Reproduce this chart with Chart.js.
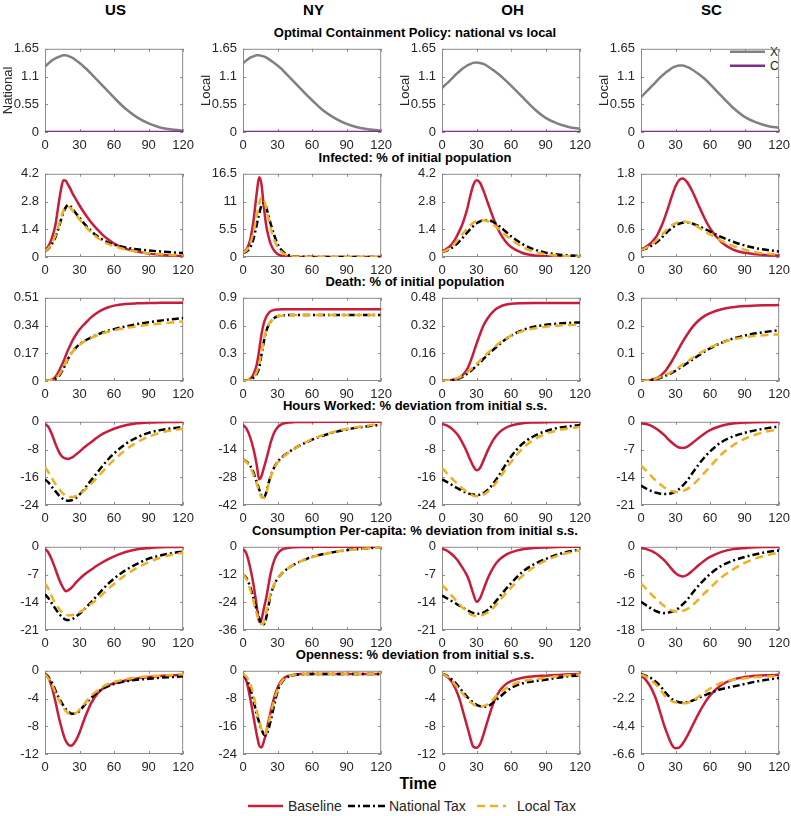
<!DOCTYPE html>
<html lang="en">
<head>
<meta charset="UTF-8">
<title>Optimal Containment Policy: national vs local</title>
<script src="https://cdn.jsdelivr.net/npm/chart.js"></script>
<style>
  body { margin: 0; background: #fff; font-family: 'Liberation Sans', Arial, Helvetica, sans-serif; }
  #fig { position: relative; width: 791px; height: 816px; overflow: hidden; background: #fff; }
  #fig canvas { position: absolute; }
  .state { position: absolute; top: 0; width: 141px; text-align: center; font-weight: bold; font-size: 15px; line-height: 19px; color: #000; }
  .rowtitle { position: absolute; left: 115px; width: 600px; text-align: center; font-weight: bold; font-size: 13px; line-height: 14px; color: #000; white-space: nowrap; }
  #time { position: absolute; left: 368px; top: 775px; width: 100px; text-align: center; font-weight: bold; font-size: 16px; line-height: 18px; }
  svg { position: absolute; overflow: visible; }
</style>
</head>
<body>
<div id="fig">
  <svg id="legendSC" style="left:725px; top:42px;" width="66" height="32">
    <line x1="5" y1="9.7" x2="40" y2="9.7" stroke="#808080" stroke-width="2.5"/>
    <line x1="5" y1="23.7" x2="40" y2="23.7" stroke="#7e2f8e" stroke-width="2.5"/>
    <text x="45" y="14" font-size="12" fill="#262626" font-family="Liberation Sans, Arial, sans-serif">X</text>
    <text x="45" y="28" font-size="12" fill="#262626" font-family="Liberation Sans, Arial, sans-serif">C</text>
  </svg>
  <div id="time">Time</div>
  <svg id="legendBottom" style="left:0; top:796px;" width="791" height="20">
    <line x1="248" y1="10" x2="283" y2="10" stroke="#c81c3a" stroke-width="2.5"/>
    <text x="288" y="15" font-size="14" fill="#262626" font-family="Liberation Sans, Arial, sans-serif">Baseline</text>
    <line x1="348" y1="10" x2="385" y2="10" stroke="#000" stroke-width="2.5" stroke-dasharray="7 3 2 3"/>
    <text x="389" y="15" font-size="14" fill="#262626" font-family="Liberation Sans, Arial, sans-serif">National Tax</text>
    <line x1="477" y1="10" x2="506" y2="10" stroke="#edb120" stroke-width="2.5" stroke-dasharray="8 5"/>
    <text x="517" y="15" font-size="14" fill="#262626" font-family="Liberation Sans, Arial, sans-serif">Local Tax</text>
  </svg>
</div>

<script>
// time grid (days)
const T = [0,3,6,9,12,14,16,18,20,22,24,27,30,33,36,40,45,50,55,60,70,80,90,100,110,120];
const xTicks = [0, 30, 60, 90, 120];

const states = ['US', 'NY', 'OH', 'SC'];
const rowTitles = [
  'Optimal Containment Policy: national vs local',
  'Infected: % of initial population',
  'Death: % of initial population',
  'Hours Worked: % deviation from initial s.s.',
  'Consumption Per-capita: % deviation from initial s.s.',
  'Openness: % deviation from initial s.s.'
];
const policyLabels = ['National', 'Local', 'Local', 'Local'];

// y tick labels per row, per state
const policyTicks = [[0,0.55,1.1,1.65],[0,0.55,1.1,1.65],[0,0.55,1.1,1.65],[0,0.55,1.1,1.65]];
const infTicks    = [[0,1.4,2.8,4.2],[0,5.5,11,16.5],[0,1.4,2.8,4.2],[0,0.6,1.2,1.8]];
const deathTicks  = [[0,0.17,0.34,0.51],[0,0.3,0.6,0.9],[0,0.16,0.32,0.48],[0,0.1,0.2,0.3]];
const hoursTicks  = [[-24,-16,-8,0],[-42,-28,-14,0],[-24,-16,-8,0],[-21,-14,-7,0]];
const consTicks   = [[-21,-14,-7,0],[-36,-24,-12,0],[-21,-14,-7,0],[-18,-12,-6,0]];
const openTicks   = [[-12,-8,-4,0],[-24,-16,-8,0],[-12,-8,-4,0],[-6.6,-4.4,-2.2,0]];

// containment policy X and C
const usX = [1.30,1.36,1.42,1.46,1.49,1.51,1.52,1.52,1.51,1.49,1.47,1.42,1.37,1.31,1.25,1.16,1.04,0.92,0.80,0.68,0.46,0.29,0.17,0.09,0.05,0.03];
const nyX = [1.36,1.42,1.47,1.50,1.52,1.52,1.51,1.50,1.48,1.45,1.42,1.37,1.32,1.26,1.19,1.10,0.98,0.86,0.74,0.63,0.42,0.27,0.16,0.09,0.05,0.03];
const ohX = [0.87,0.94,1.00,1.07,1.14,1.18,1.22,1.26,1.29,1.32,1.34,1.37,1.38,1.37,1.35,1.30,1.22,1.13,1.03,0.92,0.69,0.46,0.28,0.17,0.10,0.06];
const scX = [0.69,0.76,0.83,0.90,0.97,1.02,1.07,1.11,1.15,1.19,1.22,1.27,1.30,1.32,1.32,1.29,1.23,1.15,1.06,0.95,0.71,0.48,0.30,0.19,0.12,0.08];
const cPolicy = [0,0,0,0,0,0,0,0,0,0,0,0,0,0,0,0,0,0,0,0,0,0,0,0,0,0];

// infected
const usInfB = [0.33,0.55,0.95,1.6,2.75,3.45,3.88,3.85,3.65,3.45,3.2,2.9,2.6,2.32,2.07,1.75,1.42,1.12,0.88,0.68,0.42,0.27,0.17,0.11,0.07,0.05];
const usInfN = [0.3,0.42,0.65,1.0,1.5,1.9,2.25,2.5,2.62,2.57,2.42,2.2,1.98,1.76,1.56,1.32,1.07,0.88,0.73,0.62,0.48,0.39,0.33,0.28,0.24,0.2];
const usInfL = [0.3,0.44,0.7,1.08,1.6,2.0,2.35,2.52,2.55,2.48,2.34,2.12,1.9,1.68,1.48,1.25,1.0,0.8,0.65,0.54,0.38,0.27,0.19,0.14,0.1,0.08];
const nyInfB = [0.8,1.5,3.2,7.0,12.8,15.8,14.5,10.2,6.5,4.2,2.6,1.3,0.6,0.3,0.15,0.07,0.03,0.02,0.01,0.01,0.01,0.01,0.01,0.01,0.01,0.01];
const nyInfN = [0.8,1.1,1.8,3.5,6.5,8.5,10.2,10.7,10.0,8.3,6.6,4.4,2.6,1.5,0.8,0.35,0.12,0.05,0.03,0.02,0.02,0.02,0.02,0.02,0.02,0.02];
const nyInfL = [0.8,1.3,2.5,4.8,8.3,10.5,11.8,11.4,9.8,7.8,5.8,3.5,2.0,1.1,0.6,0.25,0.1,0.04,0.02,0.02,0.02,0.02,0.02,0.02,0.02,0.02];
const ohInfB = [0.3,0.38,0.5,0.68,0.95,1.18,1.42,1.7,2.05,2.45,2.95,3.6,3.87,3.75,3.35,2.7,1.9,1.25,0.8,0.5,0.2,0.08,0.04,0.02,0.01,0.01];
const ohInfN = [0.25,0.3,0.38,0.48,0.62,0.72,0.84,0.97,1.1,1.24,1.37,1.55,1.7,1.8,1.86,1.86,1.75,1.55,1.3,1.05,0.65,0.38,0.22,0.13,0.08,0.05];
const ohInfL = [0.25,0.32,0.42,0.56,0.74,0.88,1.02,1.17,1.31,1.45,1.57,1.72,1.81,1.86,1.86,1.8,1.62,1.38,1.12,0.88,0.5,0.27,0.14,0.07,0.04,0.02];
const scInfB = [0.17,0.2,0.25,0.31,0.4,0.47,0.57,0.68,0.81,0.95,1.1,1.33,1.53,1.66,1.70,1.62,1.4,1.12,0.85,0.62,0.32,0.16,0.09,0.06,0.04,0.03];
const scInfN = [0.15,0.17,0.2,0.24,0.29,0.33,0.37,0.42,0.47,0.52,0.57,0.63,0.68,0.72,0.74,0.75,0.72,0.67,0.61,0.55,0.43,0.33,0.25,0.19,0.15,0.12];
const scInfL = [0.15,0.18,0.22,0.27,0.33,0.37,0.42,0.48,0.53,0.58,0.63,0.69,0.73,0.76,0.77,0.76,0.71,0.64,0.56,0.49,0.35,0.24,0.16,0.1,0.07,0.05];

// death
const usDeathB = [0,0.002,0.008,0.025,0.06,0.09,0.12,0.155,0.19,0.22,0.25,0.285,0.315,0.34,0.362,0.39,0.417,0.438,0.452,0.462,0.472,0.476,0.478,0.479,0.48,0.48];
const usDeathN = [0,0.002,0.005,0.012,0.03,0.05,0.075,0.105,0.135,0.16,0.18,0.205,0.225,0.24,0.253,0.267,0.283,0.297,0.308,0.318,0.334,0.349,0.36,0.37,0.379,0.386];
const usDeathL = [0,0.003,0.008,0.018,0.037,0.057,0.082,0.11,0.137,0.16,0.18,0.203,0.222,0.237,0.25,0.264,0.279,0.292,0.302,0.311,0.325,0.336,0.345,0.352,0.359,0.365];
const nyDeathB = [0,0.005,0.02,0.07,0.18,0.33,0.5,0.62,0.69,0.73,0.755,0.768,0.773,0.775,0.776,0.777,0.777,0.777,0.777,0.777,0.777,0.777,0.777,0.777,0.777,0.777];
const nyDeathN = [0,0.003,0.012,0.035,0.08,0.14,0.28,0.42,0.53,0.6,0.64,0.68,0.7,0.707,0.711,0.713,0.715,0.715,0.715,0.715,0.715,0.715,0.715,0.715,0.715,0.715];
const nyDeathL = [0,0.004,0.014,0.04,0.1,0.18,0.31,0.44,0.54,0.605,0.645,0.682,0.7,0.707,0.71,0.712,0.713,0.713,0.713,0.713,0.713,0.713,0.713,0.713,0.713,0.713];
const ohDeathB = [0,0.001,0.003,0.006,0.011,0.016,0.023,0.035,0.05,0.07,0.1,0.155,0.215,0.27,0.32,0.365,0.405,0.428,0.44,0.446,0.449,0.45,0.45,0.45,0.45,0.45];
const ohDeathN = [0,0.001,0.003,0.006,0.01,0.013,0.018,0.025,0.033,0.042,0.052,0.07,0.088,0.107,0.127,0.153,0.183,0.212,0.24,0.262,0.294,0.313,0.324,0.331,0.335,0.338];
const ohDeathL = [0,0.002,0.005,0.009,0.014,0.018,0.024,0.031,0.04,0.05,0.06,0.078,0.097,0.117,0.137,0.163,0.193,0.22,0.243,0.262,0.288,0.303,0.313,0.319,0.323,0.325];
const scDeathB = [0,0.001,0.002,0.004,0.008,0.011,0.016,0.023,0.031,0.041,0.053,0.073,0.095,0.118,0.14,0.167,0.196,0.218,0.234,0.245,0.259,0.266,0.27,0.272,0.273,0.274];
const scDeathN = [0,0.001,0.002,0.004,0.006,0.008,0.01,0.013,0.016,0.02,0.023,0.03,0.037,0.045,0.053,0.064,0.078,0.092,0.106,0.118,0.138,0.153,0.164,0.172,0.178,0.183];
const scDeathL = [0,0.001,0.003,0.005,0.008,0.01,0.013,0.016,0.019,0.023,0.027,0.034,0.042,0.05,0.059,0.07,0.084,0.098,0.11,0.121,0.138,0.15,0.158,0.163,0.166,0.168];

// hours worked
const usHoursB = [-0.6,-1.5,-3.6,-6.3,-8.6,-9.7,-10.3,-10.6,-10.7,-10.5,-10.2,-9.4,-8.6,-7.7,-6.9,-5.9,-4.6,-3.5,-2.7,-2.0,-1.0,-0.45,-0.2,-0.1,-0.05,0];
const usHoursN = [-16.6,-17.5,-18.8,-20.0,-21.2,-21.8,-22.3,-22.6,-22.8,-22.7,-22.5,-21.9,-21.0,-19.9,-18.6,-16.9,-14.8,-12.7,-10.8,-9.1,-6.4,-4.5,-3.2,-2.4,-1.9,-1.5];
const usHoursL = [-13.1,-14.6,-16.3,-17.9,-19.3,-20.1,-20.8,-21.3,-21.6,-21.7,-21.7,-21.4,-20.9,-20.1,-19.2,-17.9,-16.2,-14.4,-12.6,-11.0,-8.1,-5.9,-4.3,-3.2,-2.5,-2.0];
const nyHoursB = [-1.5,-3.5,-7.5,-13.5,-22,-29,-27.5,-23.5,-19.5,-15,-10.5,-5.5,-2.8,-1.4,-0.7,-0.3,-0.15,-0.1,-0.07,-0.05,0,0,0,0,0,0];
const nyHoursN = [-19.0,-20.0,-22.0,-25.5,-30.5,-34.0,-37.3,-38.3,-36.0,-31.5,-27.5,-23.2,-20.3,-18.4,-16.9,-15.2,-13.4,-11.8,-10.3,-9.0,-6.9,-5.2,-3.9,-2.9,-2.1,-1.5];
const nyHoursL = [-19.0,-20.2,-22.6,-26.5,-31.5,-35.0,-38.0,-38.4,-36.5,-32.0,-28.0,-23.5,-20.6,-18.7,-17.1,-15.4,-13.5,-11.8,-10.2,-8.8,-6.6,-4.9,-3.6,-2.6,-1.8,-1.2];
const ohHoursB = [-0.6,-0.9,-1.4,-2.1,-3.1,-3.9,-5.0,-6.2,-7.5,-9.0,-10.6,-12.7,-14.0,-13.3,-11.2,-8.1,-5.0,-3.0,-1.8,-1.1,-0.4,-0.2,-0.1,-0.05,0,0];
const ohHoursN = [-16.6,-17.1,-17.7,-18.3,-18.9,-19.3,-19.6,-20.0,-20.3,-20.6,-20.8,-21.0,-21.1,-21.0,-20.6,-19.6,-17.6,-15.2,-12.5,-10.0,-6.3,-4.1,-2.7,-1.8,-1.3,-0.9];
const ohHoursL = [-13.3,-14.4,-15.5,-16.5,-17.5,-18.1,-18.7,-19.3,-19.8,-20.4,-20.8,-21.3,-21.5,-21.4,-21.0,-20.1,-18.4,-16.2,-13.8,-11.6,-7.7,-5.1,-3.5,-2.5,-1.9,-1.5];
const scHoursB = [-0.4,-0.5,-0.7,-1.0,-1.5,-1.9,-2.3,-2.8,-3.3,-3.9,-4.5,-5.3,-6.0,-6.5,-6.6,-6.3,-5.3,-4.1,-3.0,-2.1,-1.0,-0.45,-0.2,-0.1,-0.05,0];
const scHoursN = [-16.1,-16.6,-17.1,-17.5,-17.8,-17.95,-18.1,-18.2,-18.25,-18.25,-18.2,-18.0,-17.6,-17.0,-16.2,-14.9,-12.8,-10.8,-9.0,-7.5,-5.1,-3.7,-2.8,-2.1,-1.6,-1.2];
const scHoursL = [-11.0,-11.9,-12.8,-13.7,-14.6,-15.1,-15.6,-16.1,-16.5,-16.9,-17.2,-17.5,-17.7,-17.7,-17.5,-17.0,-15.9,-14.5,-12.9,-11.3,-8.2,-5.9,-4.3,-3.2,-2.4,-1.9];

// consumption per capita
const usConsB = [-0.5,-1.5,-3.3,-5.6,-8.0,-9.4,-10.5,-11.2,-11.0,-10.6,-10.0,-9.0,-8.1,-7.3,-6.6,-5.8,-4.8,-3.9,-3.1,-2.4,-1.3,-0.6,-0.3,-0.1,-0.05,0];
const usConsN = [-12.0,-13.0,-14.3,-15.6,-16.8,-17.5,-18.0,-18.4,-18.5,-18.4,-18.2,-17.6,-16.9,-16.1,-15.2,-14.0,-12.4,-10.8,-9.3,-8.0,-5.9,-4.3,-3.0,-2.2,-1.6,-1.2];
const usConsL = [-9.2,-10.7,-12.6,-14.3,-15.6,-16.3,-16.8,-17.2,-17.3,-17.3,-17.2,-16.9,-16.5,-16.0,-15.3,-14.4,-13.4,-12.0,-10.6,-9.4,-7.1,-5.3,-3.9,-2.8,-2.0,-1.5];
const nyConsB = [-0.9,-3,-8.5,-16,-26,-32.5,-31.5,-27,-22.5,-17,-11.5,-6,-3,-1.5,-0.8,-0.4,-0.2,-0.1,-0.07,-0.05,0,0,0,0,0,0];
const nyConsN = [-12.0,-13.5,-17.0,-22.0,-27.5,-30.8,-33.0,-33.6,-31.0,-26.0,-21.0,-16.5,-13.8,-11.9,-10.5,-9.0,-7.5,-6.3,-5.3,-4.4,-3.1,-2.2,-1.5,-1.0,-0.6,-0.4];
const nyConsL = [-12.0,-14.0,-18.0,-23.5,-29.0,-32.0,-33.5,-32.8,-29.0,-24.5,-20.5,-16.3,-13.7,-11.9,-10.5,-9.0,-7.5,-6.3,-5.3,-4.5,-3.2,-2.2,-1.5,-1.0,-0.6,-0.3];
const ohConsB = [-0.5,-0.8,-1.3,-2.0,-2.9,-3.6,-4.5,-5.4,-6.3,-7.4,-8.9,-11.7,-13.9,-13.0,-10.8,-7.8,-5.0,-3.2,-2.1,-1.4,-0.6,-0.3,-0.15,-0.05,0,0];
const ohConsN = [-12.3,-12.8,-13.3,-13.8,-14.3,-14.7,-15.0,-15.4,-15.7,-16.0,-16.3,-16.7,-16.9,-16.9,-16.6,-15.9,-14.4,-12.6,-10.8,-9.2,-6.3,-4.4,-3.1,-2.0,-1.2,-0.7];
const ohConsL = [-9.6,-10.5,-11.5,-12.5,-13.5,-14.2,-14.8,-15.4,-15.9,-16.4,-16.9,-17.3,-17.5,-17.4,-17.1,-16.5,-15.3,-13.6,-11.9,-10.3,-7.3,-5.1,-3.5,-2.3,-1.5,-0.9];
const scConsB = [-0.3,-0.4,-0.6,-0.9,-1.3,-1.6,-2.0,-2.4,-2.9,-3.4,-4.0,-4.9,-5.7,-6.2,-6.4,-6.1,-5.1,-4.0,-3.0,-2.2,-1.1,-0.5,-0.25,-0.1,-0.05,0];
const scConsN = [-11.9,-12.4,-12.9,-13.4,-13.8,-14.0,-14.2,-14.3,-14.35,-14.3,-14.2,-14.0,-13.7,-13.2,-12.5,-11.5,-9.9,-8.4,-7.1,-5.9,-4.1,-3.0,-2.2,-1.6,-1.1,-0.8];
const scConsL = [-7.9,-8.7,-9.5,-10.3,-11.0,-11.5,-11.9,-12.4,-12.8,-13.2,-13.5,-13.8,-14.0,-14.05,-13.9,-13.5,-12.6,-11.4,-10.1,-8.9,-6.6,-4.9,-3.5,-2.5,-1.8,-1.2];

// openness
const usOpenB = [-0.4,-1.0,-2.4,-4.4,-6.7,-8.0,-9.2,-10.1,-10.6,-10.8,-10.7,-10.0,-8.9,-7.5,-6.2,-4.7,-3.4,-2.6,-2.1,-1.8,-1.4,-1.1,-0.9,-0.75,-0.65,-0.6];
const usOpenN = [-0.5,-0.9,-1.7,-2.8,-3.9,-4.5,-5.0,-5.5,-5.85,-6.1,-6.2,-6.1,-5.8,-5.2,-4.6,-3.9,-3.2,-2.6,-2.2,-1.9,-1.5,-1.3,-1.15,-1.0,-0.9,-0.8];
const usOpenL = [-0.5,-1.1,-2.0,-3.1,-4.2,-4.8,-5.35,-5.8,-6.1,-6.25,-6.3,-6.1,-5.6,-5.0,-4.4,-3.6,-2.9,-2.3,-1.9,-1.6,-1.2,-0.95,-0.8,-0.7,-0.6,-0.5];
const nyOpenB = [-0.9,-3.0,-7.5,-13.0,-18.5,-21.5,-22.1,-20.5,-18.0,-14.8,-11.8,-7.8,-4.9,-3.0,-2.0,-1.4,-1.1,-0.95,-0.9,-0.9,-0.9,-0.9,-0.9,-0.9,-0.9,-0.9];
const nyOpenN = [-0.9,-2.3,-4.8,-8.5,-12.5,-14.8,-16.8,-18.3,-18.6,-17.0,-14.5,-10.0,-6.0,-3.7,-2.4,-1.6,-1.2,-1.0,-0.9,-0.9,-0.9,-0.9,-0.9,-0.9,-0.9,-0.9];
const nyOpenL = [-0.9,-1.8,-3.5,-6.8,-11.5,-14.3,-16.8,-18.2,-17.8,-15.5,-12.6,-8.6,-5.5,-3.4,-2.2,-1.5,-1.1,-1.0,-0.9,-0.9,-0.9,-0.9,-0.9,-0.9,-0.9,-0.9];
const ohOpenB = [-0.45,-0.7,-1.1,-1.7,-2.7,-3.5,-4.5,-5.7,-6.9,-8.1,-9.3,-10.9,-11.1,-10.6,-9.2,-7.0,-4.5,-2.9,-2.0,-1.5,-1.0,-0.8,-0.7,-0.6,-0.5,-0.45];
const ohOpenN = [-0.45,-0.6,-0.9,-1.3,-1.8,-2.2,-2.6,-3.0,-3.4,-3.8,-4.1,-4.6,-4.9,-5.1,-5.2,-5.1,-4.5,-3.8,-3.1,-2.5,-1.8,-1.5,-1.3,-1.0,-0.8,-0.65];
const ohOpenL = [-0.45,-0.65,-1.0,-1.5,-2.1,-2.5,-2.9,-3.3,-3.7,-4.1,-4.4,-4.8,-5.1,-5.2,-5.1,-4.8,-4.0,-3.2,-2.6,-2.1,-1.5,-1.2,-1.0,-0.8,-0.65,-0.55];
const scOpenB = [-0.42,-0.6,-0.95,-1.4,-2.0,-2.5,-3.1,-3.7,-4.3,-4.8,-5.3,-5.9,-6.15,-6.1,-5.8,-5.2,-4.3,-3.4,-2.6,-1.95,-1.1,-0.7,-0.5,-0.4,-0.35,-0.32];
const scOpenN = [-0.25,-0.35,-0.45,-0.6,-0.8,-0.95,-1.15,-1.35,-1.6,-1.8,-2.0,-2.25,-2.4,-2.5,-2.52,-2.5,-2.35,-2.15,-1.95,-1.75,-1.45,-1.25,-1.05,-0.85,-0.7,-0.56];
const scOpenL = [-0.3,-0.4,-0.55,-0.75,-1.0,-1.2,-1.42,-1.65,-1.9,-2.1,-2.25,-2.42,-2.5,-2.55,-2.57,-2.55,-2.35,-2.05,-1.72,-1.4,-0.95,-0.72,-0.6,-0.5,-0.45,-0.4];

// ---- layout ----
const colLeft = [45, 243, 442, 641];
const rowTop = [43, 168, 292, 416, 541, 665];
const PADL = 44, PADR = 14, PADT = 8, XH = 24;
const CW = PADL + 141 + PADR, CH = PADT + 89 + XH;

const RED = '#c81c3a', BLACK = '#000000', YELLOW = '#edb120', GRAY = '#808080', PURPLE = '#7e2f8e';
const TXT = '#262626', AXIS = '#8c8c8c';

Chart.defaults.font.family = "'Liberation Sans', Arial, Helvetica, sans-serif";

const fig = document.getElementById('fig');

states.forEach((s, c) => {
  const d = document.createElement('div');
  d.className = 'state';
  d.style.left = colLeft[c] + 'px';
  d.textContent = s;
  fig.appendChild(d);
});
rowTitles.forEach((t, r) => {
  const d = document.createElement('div');
  d.className = 'rowtitle';
  d.style.top = (rowTop[r] - 17) + 'px';
  d.textContent = t;
  fig.appendChild(d);
});

// MATLAB style box with inward ticks
const boxPlugin = {
  id: 'box',
  beforeDatasetsDraw(chart) {
    const { ctx, chartArea: a, scales: { x, y } } = chart;
    ctx.save();
    ctx.strokeStyle = AXIS;
    ctx.lineWidth = 1;
    ctx.strokeRect(a.left + 0.5, a.top + 0.5, a.width - 1, a.height - 1);
    ctx.beginPath();
    x.ticks.forEach(t => {
      const px = Math.round(x.getPixelForValue(t.value)) + 0.5;
      ctx.moveTo(px, a.bottom); ctx.lineTo(px, a.bottom - 3);
      ctx.moveTo(px, a.top); ctx.lineTo(px, a.top + 3);
    });
    y.ticks.forEach(t => {
      const py = Math.round(y.getPixelForValue(t.value)) + 0.5;
      ctx.moveTo(a.left, py); ctx.lineTo(a.left + 3, py);
      ctx.moveTo(a.right, py); ctx.lineTo(a.right - 3, py);
    });
    ctx.stroke();
    ctx.restore();
  }
};

function line(vals, color, dash, order) {
  return {
    data: T.map((t, i) => ({ x: t, y: vals[i] })),
    borderColor: color,
    borderWidth: 2.5,
    borderDash: dash,
    pointRadius: 0,
    fill: false,
    order: order
  };
}

function panel(r, c, datasets, ticks, yTitle) {
  const cv = document.createElement('canvas');
  cv.width = CW; cv.height = CH;
  cv.style.width = CW + 'px'; cv.style.height = CH + 'px';
  cv.style.left = (colLeft[c] - PADL) + 'px';
  cv.style.top = (rowTop[r] - PADT) + 'px';
  fig.appendChild(cv);
  new Chart(cv, {
    type: 'line',
    data: { datasets },
    options: {
      responsive: false,
      animation: false,
      devicePixelRatio: 1,
      layout: { padding: { top: PADT, right: PADR, left: 0, bottom: 0 } },
      plugins: { legend: { display: false }, tooltip: { enabled: false } },
      elements: { line: { cubicInterpolationMode: 'monotone', borderCapStyle: 'butt' } },
      scales: {
        x: {
          type: 'linear', min: 0, max: 120,
          grid: { display: false, drawTicks: false }, border: { display: false },
          ticks: { color: TXT, font: { size: 13 }, padding: 6, maxRotation: 0, autoSkip: false, callback: v => String(v) },
          afterBuildTicks: s => { s.ticks = xTicks.map(v => ({ value: v })); },
          afterFit: s => { s.height = XH; }
        },
        y: {
          type: 'linear', min: ticks[0], max: ticks[3],
          grid: { display: false, drawTicks: false }, border: { display: false },
          ticks: { color: TXT, font: { size: 13 }, padding: 6, autoSkip: false, callback: v => String(v) },
          title: { display: !!yTitle, text: yTitle || '', color: TXT, font: { size: 13 }, padding: { top: 0, bottom: 0 } },
          afterBuildTicks: s => { s.ticks = ticks.map(v => ({ value: v })); },
          afterFit: s => { s.width = PADL; }
        }
      }
    },
    plugins: [boxPlugin]
  });
}

const xs = [usX, nyX, ohX, scX];
const groups = [
  [[usInfB, usInfN, usInfL], [nyInfB, nyInfN, nyInfL], [ohInfB, ohInfN, ohInfL], [scInfB, scInfN, scInfL]],
  [[usDeathB, usDeathN, usDeathL], [nyDeathB, nyDeathN, nyDeathL], [ohDeathB, ohDeathN, ohDeathL], [scDeathB, scDeathN, scDeathL]],
  [[usHoursB, usHoursN, usHoursL], [nyHoursB, nyHoursN, nyHoursL], [ohHoursB, ohHoursN, ohHoursL], [scHoursB, scHoursN, scHoursL]],
  [[usConsB, usConsN, usConsL], [nyConsB, nyConsN, nyConsL], [ohConsB, ohConsN, ohConsL], [scConsB, scConsN, scConsL]],
  [[usOpenB, usOpenN, usOpenL], [nyOpenB, nyOpenN, nyOpenL], [ohOpenB, ohOpenN, ohOpenL], [scOpenB, scOpenN, scOpenL]]
];
const tickRows = [infTicks, deathTicks, hoursTicks, consTicks, openTicks];

for (let c = 0; c < 4; c++) {
  panel(0, c, [line(xs[c], GRAY, [], 1), line(cPolicy, PURPLE, [], 0)], policyTicks[c], policyLabels[c]);
}
groups.forEach((g, k) => {
  for (let c = 0; c < 4; c++) {
    const [b, n, l] = g[c];
    panel(k + 1, c, [
      line(b, RED, [], 2),
      line(n, BLACK, [7, 3, 2, 3], 1),
      line(l, YELLOW, [8, 5], 0)
    ], tickRows[k][c]);
  }
});
</script>
</body>
</html>
